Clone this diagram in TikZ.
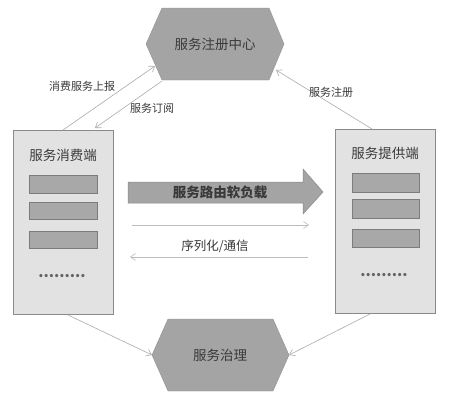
\documentclass[tikz,border=0pt]{standalone}
\usepackage{fontspec}
\setmainfont{Noto Sans CJK SC}
\usetikzlibrary{arrows.meta}
\definecolor{hexfill}{HTML}{A4A4A4}
\definecolor{boxfill}{HTML}{E2E2E2}
\definecolor{boxline}{HTML}{8A8A8A}
\definecolor{barfill}{HTML}{A8A8A8}
\definecolor{barline}{HTML}{7C7C7C}
\definecolor{linkcol}{HTML}{ABABAB}
\definecolor{txt}{HTML}{3A3A3A}
\tikzset{
  hexshape/.style={fill=hexfill, draw=hexfill!90!black, line width=0.4pt},
  endbox/.style={fill=boxfill, draw=boxline, line width=0.6pt},
  bar/.style={fill=barfill, draw=barline, line width=0.5pt},
  link/.style={draw=linkcol, line width=0.6pt, -{Straight Barb[length=5pt,width=7pt]}},
  flow/.style={draw=linkcol!80, line width=0.6pt, -{Straight Barb[length=5pt,width=7pt]}},
  big/.style={font=\fontsize{13.5}{15}\selectfont, text=txt, inner sep=0pt},
  small/.style={font=\fontsize{11}{13}\selectfont, text=txt, inner sep=0pt},
  dots/.style={font=\fontsize{15}{15}\selectfont\bfseries, text=txt!80, inner sep=0pt}
}
\begin{document}
\begin{tikzpicture}[x=1pt,y=-1pt]
\useasboundingbox (0,0) rectangle (452,405);
\fill[white] (0,0) rectangle (452,405);

% registry hexagon
\coordinate (rL) at (146,44);  \coordinate (rTL) at (162,8);
\coordinate (rTR) at (269,8);  \coordinate (rR) at (284,44);
\coordinate (rBR) at (269,80); \coordinate (rBL) at (162,80);
\draw[hexshape] (rL) -- (rTL) -- (rTR) -- (rR) -- (rBR) -- (rBL) -- cycle;
\node[big] (reg) at (215,44) {服务注册中心};

% governance hexagon
\coordinate (gL) at (152,355);  \coordinate (gTL) at (168,319);
\coordinate (gTR) at (273,319); \coordinate (gR) at (289,355);
\coordinate (gBR) at (273,391); \coordinate (gBL) at (168,391);
\draw[hexshape] (gL) -- (gTL) -- (gTR) -- (gR) -- (gBR) -- (gBL) -- cycle;
\node[big] (gov) at (220,355) {服务治理};

% consumer side
\draw[endbox] (13,130) rectangle (113,314);
\node[big] (cons) at (63,155) {服务消费端};
\draw[bar] (29,175) rectangle (97,193);
\draw[bar] (29,202) rectangle (97,219);
\draw[bar] (29,231) rectangle (97,248);
\node[dots] (cdots) at (62,276) {.........};

% provider side
\draw[endbox] (335,129) rectangle (435,313);
\node[big] (prov) at (385,153) {服务提供端};
\draw[bar] (352,173) rectangle (419,192);
\draw[bar] (352,199) rectangle (419,218);
\draw[bar] (352,229) rectangle (419,247);
\node[dots] (pdots) at (384,275) {.........};

% routing / load-balancing arrow
\draw[fill=hexfill, draw=boxline, line width=0.5pt]
  (128,182) -- (303,182) -- (303,169) -- (323,192) -- (303,214) -- (303,203) -- (128,203) -- cycle;
\node[big, font=\fontsize{13.5}{15}\selectfont\bfseries] (route) at (220,192) {服务路由软负载};

% serialization / communication
\coordinate (sA) at (132,225); \coordinate (sB) at (309,225);
\coordinate (tA) at (308,257); \coordinate (tB) at (130,257);
\draw[flow] (sA) -- (sB);
\draw[flow] (tA) -- (tB);
\node[big, font=\fontsize{12.5}{14}\selectfont] (ser) at (215,246) {序列化/通信};

% registry links
\coordinate (c1) at (63,130);  \coordinate (h1) at (155,66);
\coordinate (h2) at (162,81);  \coordinate (c2) at (95,128);
\coordinate (p1) at (372,129); \coordinate (h3) at (276,70);
\draw[link] (c1) -- (h1);
\draw[link] (h2) -- (c2);
\draw[link] (p1) -- (h3);
\node[small] (report) at (82,86) {消费服务上报};
\node[small] (subs) at (152,108) {服务订阅};
\node[small] (regist) at (331,92) {服务注册};

% governance links
\coordinate (c3) at (68,315);  \coordinate (p3) at (370,314);
\draw[link] (c3) -- (gL);
\draw[link] (p3) -- (gR);
\end{tikzpicture}
\end{document}
